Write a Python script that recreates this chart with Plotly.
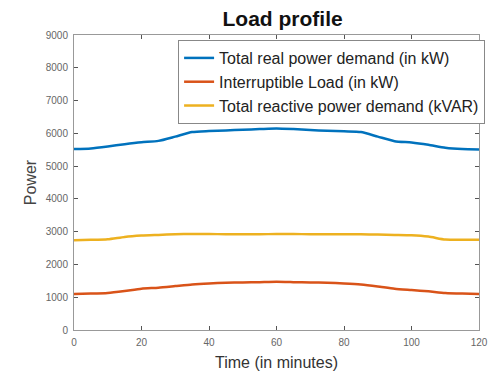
import plotly.graph_objects as go

time_min = [0, 5, 10, 15, 20, 25, 30, 35, 40, 45, 50, 55, 60, 65, 70, 75, 80, 85, 90, 95, 100, 105, 110, 115, 120]
real_power = [5520, 5540, 5600, 5670, 5730, 5770, 5900, 6040, 6070, 6090, 6110, 6130, 6150, 6130, 6100, 6080, 6060, 6040, 5900, 5760, 5720, 5650, 5560, 5520, 5510]
interruptible = [1100, 1110, 1130, 1190, 1260, 1290, 1340, 1390, 1420, 1440, 1450, 1460, 1470, 1460, 1450, 1440, 1420, 1390, 1330, 1260, 1220, 1180, 1130, 1110, 1100]
reactive = [2740, 2750, 2770, 2840, 2880, 2900, 2920, 2930, 2930, 2920, 2920, 2920, 2930, 2930, 2920, 2920, 2920, 2920, 2910, 2900, 2890, 2850, 2760, 2750, 2750]

names = ["Total real power demand (in kW)", "Interruptible Load (in kW)", "Total reactive power demand (kVAR)"]
colors = ["#0072BD", "#D95319", "#EDB120"]

fig = go.Figure()
for ys, nm, c in zip([real_power, interruptible, reactive], names, colors):
    fig.add_trace(go.Scatter(x=time_min, y=ys, mode="lines", name=nm,
                             line=dict(color=c, width=2.5, shape="spline", smoothing=0.6)))

axis_common = dict(showline=True, linecolor="#999999", linewidth=1, mirror="ticks",
                   ticks="inside", ticklen=4, tickcolor="#555555", showgrid=False, zeroline=False,
                   automargin=False, ticklabelstandoff=3,
                   tickfont=dict(size=10, color="#666666", family="Liberation Sans"))

fig.update_layout(
    width=489, height=363,
    margin=dict(l=66, r=13, t=27, b=41),
    paper_bgcolor="white", plot_bgcolor="white",
    font=dict(family="Liberation Sans", color="#333333"),
    title=dict(text="<b>Load profile</b>", x=0.5615, xanchor="center", y=0.972, yanchor="middle",
               font=dict(size=21, color="#111111")),
    xaxis=dict(range=[0, 120], tickvals=[0, 20, 40, 60, 80, 100, 120],
               title=dict(text="Time (in minutes)", font=dict(size=16, color="#333333"), standoff=9),
               **axis_common),
    yaxis=dict(range=[0, 9000], tickvals=list(range(0, 9001, 1000)),
               title=dict(text="Power", font=dict(size=16, color="#444444"), standoff=5),
               **axis_common),
    legend=dict(x=0.257, xanchor="left", y=0.983, yanchor="top",
                bgcolor="white", bordercolor="#888888", borderwidth=1,
                font=dict(size=16, color="#222222"), tracegroupgap=0, itemwidth=30),
    showlegend=True,
)

fig.write_html("out.html")
